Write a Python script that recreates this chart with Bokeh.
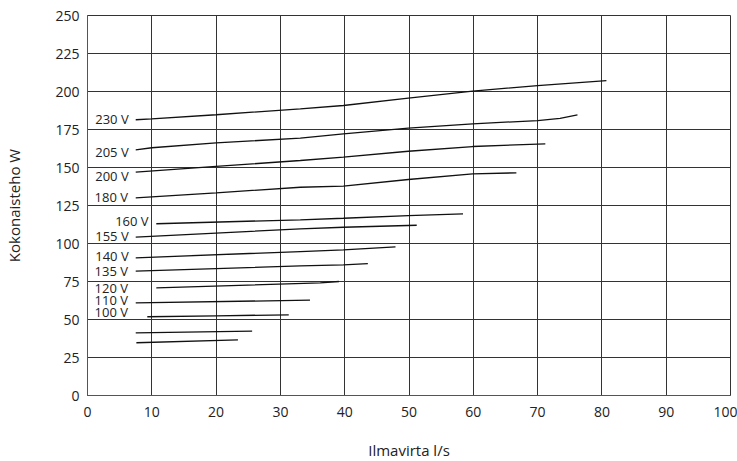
from bokeh.plotting import figure
from bokeh.models import ColumnDataSource, FixedTicker, Range1d
from bokeh.core.properties import value
from bokeh.embed import file_html
from bokeh.resources import INLINE

# Curves: airflow (l/s) vs total power (W)
c230_x = [7.5, 10, 20, 33.1, 39.8, 49.9, 59.9, 70, 80.7]
c230_y = [181.4, 182, 184.7, 188.6, 190.8, 195.6, 200.2, 203.9, 207.2]
c205_x = [7.5, 10, 20, 33.1, 39.8, 49.9, 59.9, 70, 73.5, 76.2]
c205_y = [161.6, 163, 166.2, 169.3, 172.1, 175.9, 178.7, 180.9, 182.3, 184.6]
c200_x = [7.5, 20, 33.1, 39.8, 49.9, 59.9, 70, 71.2]
c200_y = [146.9, 150.7, 154.6, 156.8, 160.7, 163.8, 165.4, 165.6]
c180_x = [7.5, 20, 33.1, 39.8, 49.9, 59.9, 66.7]
c180_y = [130, 133.3, 137, 137.7, 142.1, 145.8, 146.5]
c160_x = [10.7, 33.1, 39.8, 49.9, 58.4]
c160_y = [113, 115.6, 116.6, 118.4, 119.5]
c155_x = [7.5, 33.1, 39.8, 51.2]
c155_y = [104.2, 109.6, 110.7, 112]
c140_x = [7.5, 33.1, 39.8, 47.9]
c140_y = [90.6, 94.7, 95.8, 97.8]
c135_x = [7.5, 33.1, 39.8, 43.6]
c135_y = [81.8, 85.3, 86, 86.8]
c120_x = [10.7, 36.2, 39.1]
c120_y = [70.8, 74.1, 75]
c110_x = [7.5, 34.6]
c110_y = [61, 62.7]
c100_x = [9.3, 20, 31.3]
c100_y = [51.8, 52.4, 53.1]
cA_x = [7.5, 25.6]
cA_y = [41.2, 42.3]
cB_x = [7.6, 23.4]
cB_y = [34.7, 36.6]

label_text = ["230 V", "205 V", "200 V", "180 V", "160 V", "155 V",
              "140 V", "135 V", "120 V", "110 V", "100 V"]
label_x = [6.4, 6.4, 6.4, 6.3, 9.5, 6.4, 6.4, 6.3, 6.3, 6.3, 6.3]
label_y = [181.6, 160.5, 144.1, 130.5, 115.1, 104.8, 91.6, 82.2, 70.9, 63.0, 54.8]

x_ticks = [0, 10, 20, 30, 40, 50, 60, 70, 80, 90, 100]
y_ticks = [0, 25, 50, 75, 100, 125, 150, 175, 200, 225, 250]

FONT = "Open Sans"

p = figure(frame_width=643, frame_height=380, output_backend="svg", toolbar_location=None,
           x_range=Range1d(0, 100), y_range=Range1d(0, 250),
           min_border_left=87, min_border_right=7, min_border_top=15,
           min_border_bottom=66, outline_line_color="#333333")

curves = [(c230_x, c230_y), (c205_x, c205_y), (c200_x, c200_y), (c180_x, c180_y),
          (c160_x, c160_y), (c155_x, c155_y), (c140_x, c140_y), (c135_x, c135_y),
          (c120_x, c120_y), (c110_x, c110_y), (c100_x, c100_y), (cA_x, cA_y), (cB_x, cB_y)]
for cx, cy in curves:
    p.line(cx, cy, line_color="#111111", line_width=1.3)

src = ColumnDataSource(dict(x=label_x, y=label_y, t=label_text))
p.text(x="x", y="y", text="t", source=src, text_font=value(FONT),
       text_font_size="13px", text_align="right", text_baseline="middle",
       text_color="#222222")

for ax in (p.xaxis[0], p.yaxis[0]):
    ax.major_tick_in = 0
    ax.major_tick_out = 0
    ax.minor_tick_in = 0
    ax.minor_tick_out = 0
    ax.axis_line_color = "#555555"
    ax.major_label_text_font = FONT
    ax.major_label_text_font_size = "14px"
    ax.major_label_text_color = "#222222"
    ax.axis_label_text_font = FONT
    ax.axis_label_text_font_size = "15px"
    ax.axis_label_text_font_style = "normal"
    ax.axis_label_text_color = "#222222"

p.xaxis.ticker = FixedTicker(ticks=x_ticks)
p.yaxis.ticker = FixedTicker(ticks=y_ticks)
p.xaxis.axis_label = "Ilmavirta l/s"
p.yaxis.axis_label = "Kokonaisteho W"
p.xaxis.major_label_standoff = 11
p.yaxis.major_label_standoff = 8
p.xaxis.axis_label_standoff = 20
p.yaxis.axis_label_standoff = 28

p.xgrid.ticker = FixedTicker(ticks=x_ticks)
p.ygrid.ticker = FixedTicker(ticks=y_ticks)
p.grid.grid_line_color = "#333333"
p.grid.grid_line_width = 1
p.grid.grid_line_alpha = 1

open("out.html", "w").write(file_html(p, INLINE))
